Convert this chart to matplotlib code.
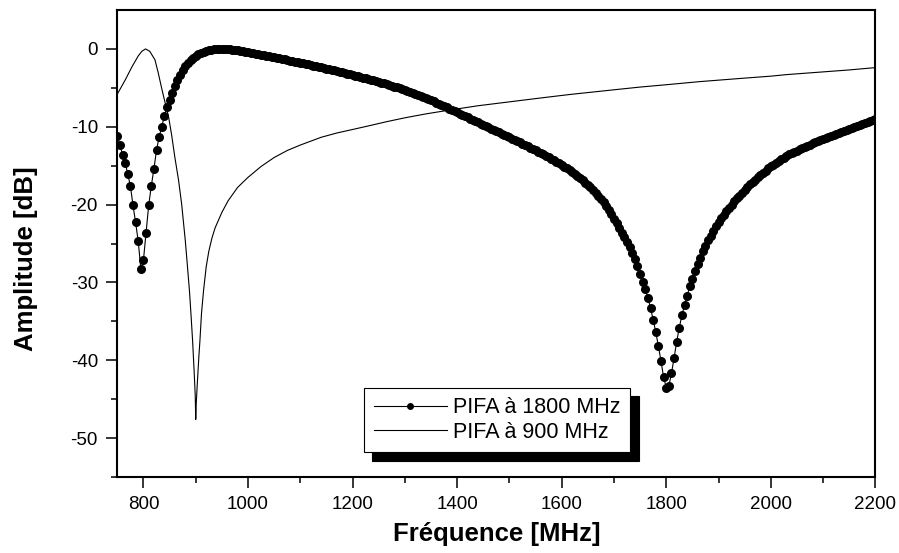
import numpy as np
import matplotlib
matplotlib.use("Agg")
import matplotlib.pyplot as plt

plt.rcParams['font.family'] = ['Liberation Sans', 'DejaVu Sans']

# PIFA a 1800 MHz : un point tous les 5 MHz de 750 a 2200 MHz
freq_1800 = np.arange(750, 2201, 5)
amp_1800 = [
    -11.2, -12.3, -13.6, -14.6, -16.1, -17.6, -20.1, -22.3, -24.7, -28.3,
    -27.1, -23.6, -20.1, -17.6, -15.4, -13.0, -11.3, -10.0, -8.6, -7.5,
    -6.5, -5.6, -4.8, -4.0, -3.3, -2.75,
    # 880 - 1000
    -2.2, -1.8, -1.45, -1.15, -0.9, -0.7, -0.52, -0.38, -0.26, -0.17,
    -0.1, -0.05, -0.02, 0.0, 0.0, -0.01, -0.03, -0.06, -0.1, -0.14,
    -0.19, -0.24, -0.3, -0.36, -0.42,
    # 1005 - 1100
    -0.48, -0.54, -0.6, -0.66, -0.72, -0.79, -0.86, -0.93, -1.0, -1.07,
    -1.14, -1.21, -1.28, -1.35, -1.42, -1.49, -1.56, -1.63, -1.7, -1.77,
    # 1105 - 1200
    -1.84, -1.91, -1.99, -2.06, -2.14, -2.21, -2.29, -2.37, -2.45, -2.53,
    -2.61, -2.69, -2.77, -2.85, -2.93, -3.01, -3.09, -3.17, -3.25, -3.33,
    # 1205 - 1300
    -3.42, -3.5, -3.59, -3.68, -3.77, -3.86, -3.95, -4.04, -4.13, -4.23,
    -4.33, -4.43, -4.53, -4.63, -4.73, -4.84, -4.95, -5.06, -5.17, -5.28,
    # 1305 - 1400
    -5.4, -5.52, -5.65, -5.78, -5.91, -6.04, -6.18, -6.32, -6.46, -6.6,
    -6.75, -6.9, -7.05, -7.2, -7.36, -7.52, -7.68, -7.84, -8.0, -8.16,
    # 1405 - 1500
    -8.32, -8.48, -8.64, -8.8, -8.96, -9.12, -9.28, -9.44, -9.6, -9.76,
    -9.92, -10.08, -10.24, -10.4, -10.56, -10.72, -10.88, -11.04, -11.2, -11.36,
    # 1505 - 1600
    -11.52, -11.68, -11.84, -12.0, -12.17, -12.34, -12.51, -12.68, -12.85, -13.02,
    -13.2, -13.38, -13.56, -13.74, -13.92, -14.11, -14.3, -14.5, -14.7, -14.9,
    # 1605 - 1700
    -15.12, -15.35, -15.58, -15.82, -16.07, -16.33, -16.6, -16.88, -17.17, -17.47,
    -17.79, -18.12, -18.47, -18.84, -19.23, -19.7, -20.2, -20.7, -21.25, -21.8,
    # 1705 - 1800
    -22.4, -23.0, -23.6, -24.2, -24.8, -25.5, -26.2, -27.0, -27.9, -28.9,
    -29.9, -30.8, -32.0, -33.3, -34.8, -36.4, -38.2, -40.1, -42.2, -43.5,
    # 1805 - 1900
    -43.3, -41.7, -39.7, -37.6, -35.8, -34.2, -32.9, -31.7, -30.5, -29.5,
    -28.5, -27.6, -26.8, -26.0, -25.3, -24.6, -24.0, -23.4, -22.8, -22.2,
    # 1905 - 2000
    -21.75, -21.3, -20.85, -20.4, -20.0, -19.6, -19.2, -18.85, -18.45, -18.1,
    -17.75, -17.4, -17.1, -16.8, -16.5, -16.2, -15.9, -15.65, -15.35, -15.1,
    # 2005 - 2100
    -14.85, -14.6, -14.4, -14.15, -13.95, -13.75, -13.55, -13.4, -13.2, -13.05,
    -12.9, -12.75, -12.6, -12.45, -12.3, -12.15, -12.0, -11.85, -11.75, -11.6,
    # 2105 - 2200
    -11.45, -11.35, -11.2, -11.1, -10.95, -10.8, -10.7, -10.55, -10.45, -10.3,
    -10.15, -10.05, -9.9, -9.8, -9.65, -9.5, -9.4, -9.25, -9.15, -9.0,
]

# PIFA a 900 MHz (trait fin)
freq_900 = [750, 765, 778, 790, 797, 804, 812, 822, 828, 835, 841, 848, 854,
            860, 867, 873, 880, 884, 888, 891, 894, 897, 899, 900, 901, 903,
            906, 908, 911, 915, 920, 925, 931, 937, 950, 962, 980, 1000, 1025,
            1050, 1075, 1100, 1120, 1140, 1170, 1200, 1233, 1265, 1300, 1340,
            1386, 1440, 1500, 1560, 1616, 1700, 1750, 1800, 1864, 1950, 2000,
            2030, 2100, 2150, 2200]
amp_900 = [-5.8, -4.0, -2.3, -0.9, -0.3, 0.0, -0.3, -1.4, -3.0, -5.1, -6.8,
           -8.7, -11.1, -13.9, -16.8, -19.9, -24.6, -27.8, -31.1, -34.2, -37.5,
           -41.5, -44.5, -47.6, -45.5, -43.0, -39.5, -37.5, -34.0, -31.0, -28.0,
           -26.0, -24.3, -23.0, -21.0, -19.5, -17.8, -16.5, -15.1,
           -13.95, -13.05, -12.35, -11.85, -11.35, -10.8, -10.35, -9.85, -9.35,
           -8.85, -8.35, -7.85, -7.3, -6.8, -6.3, -5.85, -5.25, -4.9, -4.6,
           -4.2, -3.75, -3.5, -3.3, -2.95, -2.7, -2.4]

x_ticks = [800, 1000, 1200, 1400, 1600, 1800, 2000, 2200]
y_ticks = [0, -10, -20, -30, -40, -50]

fig = plt.figure(figsize=(8.99, 5.53), dpi=100)
ax = fig.add_axes([0.1305, 0.1374, 0.8432, 0.8445])

ax.plot(freq_1800, amp_1800, color='black', lw=0.8, marker='o',
        markersize=6.5, markeredgewidth=0, label='PIFA à 1800 MHz')
ax.plot(freq_900, amp_900, color='black', lw=0.8, label='PIFA à 900 MHz')

ax.set_xlim(750, 2200)
ax.set_ylim(-55, 5)
ax.set_xticks(x_ticks)
ax.set_xticks(np.arange(800, 2201, 100), minor=True)
ax.set_yticks(y_ticks)
ax.set_yticks(np.arange(-55, 5, 5), minor=True)
ax.set_yticklabels([str(v) for v in y_ticks])

for s in ax.spines.values():
    s.set_linewidth(1.5)
ax.tick_params(which='major', direction='out', length=8, width=1.1,
               labelsize=13.5, pad=6)
ax.tick_params(which='minor', direction='out', length=4, width=1.1)

ax.set_xlabel('Fréquence [MHz]', fontsize=18.5, fontweight='bold')
ax.set_ylabel('Amplitude [dB]', fontsize=18.5, fontweight='bold')
ax.xaxis.set_label_coords(0.5, -0.096)
ax.yaxis.set_label_coords(-0.105, 0.467)

leg = ax.legend(loc='center', bbox_to_anchor=(0.501, 0.122), fontsize=15.5,
                numpoints=1, handlelength=3.4, handletextpad=0.3,
                labelspacing=0.15, borderpad=0.45, fancybox=False,
                framealpha=1, edgecolor='black',
                shadow={'ox': 6, 'oy': -6, 'facecolor': 'black',
                        'edgecolor': 'black', 'alpha': 1})
leg.get_frame().set_linewidth(0.8)
for h in leg.legend_handles:
    h.set_markersize(5)

plt.savefig('out.png', dpi=100)
